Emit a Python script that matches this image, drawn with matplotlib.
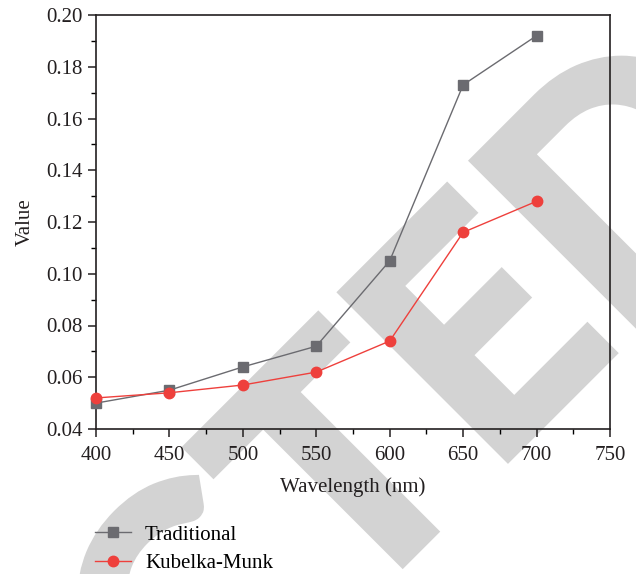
import matplotlib
matplotlib.use("Agg")
import matplotlib.pyplot as plt
import matplotlib.patheffects as pe
from matplotlib.ticker import MultipleLocator
import numpy as np

wavelength = [400, 450, 500, 550, 600, 650, 700]
traditional = [0.050, 0.055, 0.064, 0.072, 0.105, 0.173, 0.192]
kubelka_munk = [0.052, 0.054, 0.057, 0.062, 0.074, 0.116, 0.128]

plt.rcParams['font.family'] = ['Liberation Serif', 'DejaVu Serif']

W, H = 636, 574
DPI = 100
fig = plt.figure(figsize=(W / DPI, H / DPI), dpi=DPI)
ax = fig.add_axes([96 / W, 1 - 429 / H, (610 - 96) / W, (429 - 15) / H])
ax.patch.set_alpha(0)

# tail of the "RETRACTED" watermark (the letters visible on the canvas), on a 45-degree baseline
wm_color = '#d3d3d3'
wm_letters = ["C", "T", "E", "D"]
wm_offsets = [-210, 0, 194, 410]   # px along the baseline
base_x, base_y = 418, H - 547
r2 = np.sqrt(2)
for ch, s in zip(wm_letters, wm_offsets):
    px = base_x + s / r2
    py = base_y + s / r2
    fig.text(px / W, py / H, ch, rotation=45, rotation_mode='anchor',
             ha='center', va='baseline', fontsize=232, fontweight='bold',
             family=['Lato', 'Liberation Sans'], color=wm_color, zorder=-1,
             path_effects=[pe.withStroke(linewidth=7, foreground=wm_color, joinstyle='miter')])

gray = '#6b6b70'
red = '#ee403c'
ax.plot(wavelength, traditional, color=gray, lw=1.0, marker='s', ms=7,
        mec=gray, mfc=gray, label='Traditional', clip_on=False, zorder=3)
ax.plot(wavelength, kubelka_munk, color=red, lw=1.0, marker='o', ms=7.5,
        mec=red, mfc=red, label='Kubelka-Munk', clip_on=False, zorder=4)

ax.set_xlim(400, 750)
ax.set_ylim(0.04, 0.20)
ax.xaxis.set_major_locator(MultipleLocator(50))
ax.xaxis.set_minor_locator(MultipleLocator(25))
ax.yaxis.set_major_locator(MultipleLocator(0.02))
ax.yaxis.set_minor_locator(MultipleLocator(0.01))
ax.yaxis.set_major_formatter(plt.FuncFormatter(lambda v, p: f"{v:.2f}"))
ax.tick_params(which='major', direction='out', length=6, width=1.1, labelsize=15, colors='#231f20')
ax.tick_params(axis='x', which='major', pad=6)
ax.tick_params(which='minor', direction='out', length=3.5, width=1.0)
for s in ax.spines.values():
    s.set_linewidth(1.2)
    s.set_color('#231f20')

ax.set_xlabel('Wavelength (nm)', fontsize=15, color='#231f20', labelpad=9)
ax.set_ylabel('Value', fontsize=15, color='#231f20', labelpad=8)

fig.legend(loc='upper left', bbox_to_anchor=(95 / W, 1 - 525 / H), frameon=False,
           fontsize=15, handlelength=1.75, handletextpad=0.65, labelspacing=0.42,
           borderaxespad=0, borderpad=0)

fig.savefig('out.png', dpi=DPI)
